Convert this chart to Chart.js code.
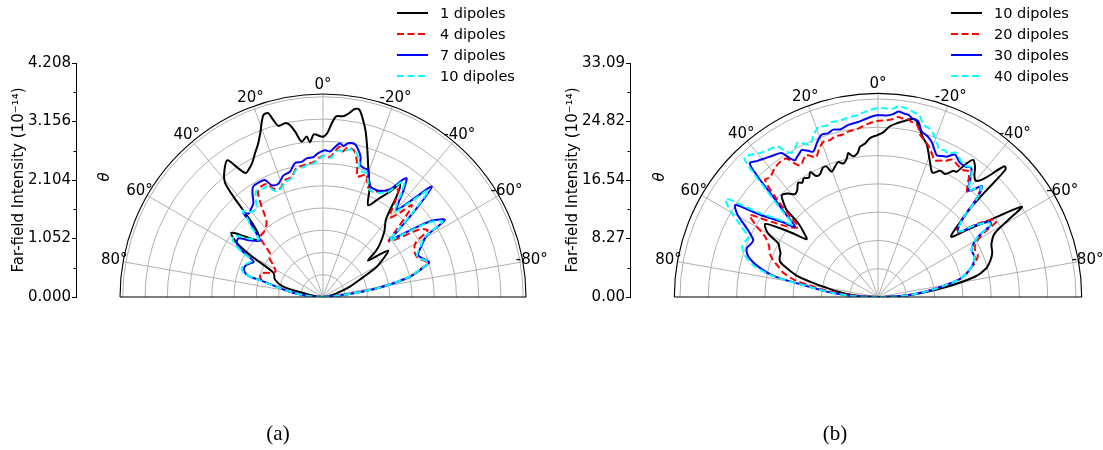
<!DOCTYPE html>
<html>
<head>
<meta charset="utf-8">
<title>Far-field intensity, polar</title>
<script src="https://cdn.jsdelivr.net/npm/chart.js@4.4.0/dist/chart.umd.min.js"></script>
<style>
  html, body { margin: 0; padding: 0; background: #fff; }
  body { width: 1103px; height: 450px; position: relative; overflow: hidden; }
  .panel { position: absolute; top: 0; }
  .caption { position: absolute; top: 421px; font-family: 'Liberation Serif', serif; font-size: 21px; transform: translateX(-50%); color: #000; }
</style>
</head>
<body>
<div class="panel" style="left:0"><canvas id="chartA" width="554" height="450"></canvas></div>
<div class="panel" style="left:554px"><canvas id="chartB" width="549" height="450"></canvas></div>
<div class="caption" style="left:278px">(a)</div>
<div class="caption" style="left:835px">(b)</div>
<script>
// Far-field intensity vs. emission angle, two half-polar panels

// ---- panel (a) ----
const labelsA = ['1 dipoles', '4 dipoles', '7 dipoles', '10 dipoles'];
const yTicksA = [0, 1.052, 2.104, 3.156, 4.208];

const a1Theta = [90,85,80,75.5,70,64,60.5,58,55,52,49,46.5,44,42.5,41.5,40.5,38,35,33.5,32,30,28,25.3,23,21,18.2,16.6,15.7,14.6,12.3,10.9,9.6,7.8,5.8,4.8,3.2,0.1,-1.5,-2.9,-4.3,-6.4,-7.9,-9.6,-11,-12.5,-14.4,-16.8,-19.6,-23.4,-26.2,-29.5,-32.5,-34.3,-36,-39,-43,-47,-49,-51,-53,-54.7,-57.5,-60.6,-64.2,-69,-75,-82,-90];
const a1Value = [0,0.14,0.29,0.74,0.92,0.99,1.44,1.82,2.01,1.76,1.56,1.58,1.80,2.16,2.50,2.72,2.88,3.00,2.79,2.63,2.66,2.72,2.86,2.99,3.15,3.44,3.45,3.31,3.18,3.20,3.15,3.02,2.82,2.90,2.79,2.93,2.88,2.95,3.13,3.26,3.27,3.33,3.43,3.43,3.29,3.08,2.76,2.43,2.10,1.84,2.03,2.25,2.46,2.27,1.80,1.62,1.40,1.26,1.04,1.26,1.44,1.29,1.11,0.77,0.52,0.25,0.09,0];

const a4Theta = [90,86,82,78,75,72,69,65,62,58,54,50.5,48,46.3,42,37.4,35.5,34.2,32.5,31.2,29,26.4,24.6,21.5,18,14.8,11.8,8.9,6.7,4,1.9,-0.8,-2.8,-4.5,-6.3,-7.7,-9.3,-11.8,-13.5,-15,-15.9,-18,-19.6,-21,-23.4,-26.6,-29,-31.9,-34.3,-35.2,-37,-38.8,-40.3,-42.5,-44,-45.5,-47.5,-49.6,-52,-55,-57.5,-59.5,-62.5,-66,-68.5,-71.9,-74,-77,-81,-84.4,-90];
const a4Value = [0,0.27,0.54,0.81,1.13,1.19,1.19,1.03,0.97,1.04,1.19,1.24,1.44,1.56,1.58,1.67,1.80,1.96,2.16,2.25,2.28,2.27,2.14,2.10,2.21,2.23,2.36,2.39,2.41,2.43,2.50,2.54,2.52,2.61,2.72,2.64,2.72,2.70,2.57,2.37,2.25,2.30,2.34,2.21,2.10,2.12,2.19,2.27,2.34,2.36,2.16,1.94,1.87,2.07,2.30,2.12,1.80,1.55,1.71,2.12,2.23,1.94,1.85,1.83,1.87,1.98,1.82,1.58,0.97,0.36,0];

const a7Theta = [90,86,82,78,75,73.9,70.5,67,63,60.5,58,55.3,52,48.2,47,45.5,44.1,43.4,41.7,39,36.6,34,32.3,29,26.4,24.6,21.5,18,14.8,11.8,8.9,6.7,4,1.9,-0.8,-2.8,-4.5,-6.3,-7.7,-9.3,-11.8,-13.5,-15,-15.9,-18,-19.6,-21,-23.4,-26.6,-29,-31.9,-34.3,-35.2,-37,-38.8,-40.3,-42.5,-44.6,-46.5,-48.5,-49.6,-52,-55,-57.7,-59.5,-62.5,-66,-68.5,-71.9,-74,-77,-81,-84.4,-90];
const a7Value = [0,0.27,0.54,0.81,1.17,1.42,1.51,1.49,1.40,1.65,1.83,1.85,1.65,1.52,1.59,1.76,1.89,2.09,2.01,2.05,2.10,2.27,2.35,2.36,2.35,2.21,2.19,2.30,2.33,2.46,2.46,2.51,2.52,2.59,2.64,2.62,2.70,2.78,2.74,2.80,2.81,2.72,2.61,2.46,2.43,2.43,2.30,2.16,2.15,2.18,2.28,2.56,2.61,2.41,2.16,2.05,2.37,2.79,2.34,1.80,1.58,1.89,2.39,2.59,2.16,2.00,1.87,1.91,2.01,1.85,1.60,0.97,0.36,0];

const a10Theta = [90,86,82,78,75,73.5,70.5,67,63,60.5,58,55.3,52,48.2,47,45.5,44.1,43,41.7,39,36.6,34,32.3,29,26.4,24.6,21.5,18,14.8,11.8,8.9,6.7,4,1.9,-0.8,-2.8,-4.5,-6.3,-7.7,-9.3,-11.8,-13.5,-15,-15.9,-18,-19.6,-21,-23.4,-26.6,-29,-31.9,-34.3,-35.2,-37,-38.8,-40.3,-42.5,-44.6,-46.5,-48.5,-49.6,-52,-55,-57.7,-59.5,-62.5,-66,-68.5,-71.9,-74,-77,-81,-84.4,-90];
const a10Value = [0,0.27,0.54,0.83,1.22,1.47,1.55,1.51,1.44,1.71,1.91,1.94,1.71,1.55,1.62,1.83,1.94,2.12,2.05,1.98,2.01,2.16,2.25,2.23,2.23,2.10,2.09,2.18,2.21,2.34,2.36,2.39,2.41,2.48,2.54,2.50,2.57,2.66,2.63,2.68,2.70,2.63,2.52,2.39,2.36,2.36,2.25,2.10,2.10,2.14,2.23,2.50,2.54,2.34,2.10,2.01,2.30,2.70,2.27,1.76,1.56,1.85,2.34,2.54,2.12,1.98,1.85,1.89,2.00,1.83,1.58,0.97,0.36,0];

// ---- panel (b) ----
const labelsB = ['10 dipoles', '20 dipoles', '30 dipoles', '40 dipoles'];
const yTicksB = [0, 8.27, 16.54, 24.82, 33.09];

const b10Theta = [90,87.5,85.7,82.5,79.6,77.5,75.7,73,70.2,68,65.9,63.5,61.7,59.9,57.1,55,53,51,49,47.2,46.4,45,43.4,41,39,37.2,35,33.5,32,30,28.5,27,25.3,23,21.5,20.3,18,16.4,14.5,12.5,11.7,10,8,6.8,4.7,2.9,0.2,-1.8,-4,-6.1,-8.7,-10.7,-12.1,-13.6,-15.6,-17.8,-21,-23.7,-26.2,-28.6,-30.9,-32.1,-33.5,-34.8,-36.8,-38.5,-40.2,-42,-44,-45,-45.5,-46,-47,-50.4,-53,-55.2,-57.9,-59.4,-61.4,-65,-69,-72,-75.2,-78.2,-81.8,-85.8,-88.5,-90];
const b10Value = [0,1.7,3.7,5.7,7.6,9.6,11.6,13.2,14.7,15.0,15.1,15.6,16.0,18.0,19.0,17.0,14.8,13.0,13.9,15.4,17.8,18.9,19.8,19.4,18.7,18.9,19.7,19.4,19.8,19.5,20.1,19.2,19.2,19.9,19.8,18.9,19.5,19.9,19.5,20.2,20.8,20.2,20.6,21.4,21.8,22.5,22.9,23.3,24.2,24.7,25.2,25.6,25.6,24.7,23.5,22.6,20.5,19.2,19.9,19.8,20.8,20.9,22.6,23.6,22.9,21.9,21.5,22.6,25.7,25.5,21.2,18.4,16.7,13.4,15.8,18.7,24.0,21.4,18.8,17.7,17.3,16.7,15.8,14.0,9.6,5.2,2.1,0];

const b20Theta = [90,87.5,85,82,78.5,75.5,73.1,70.5,68,65,61.9,59.5,57.4,56,54,51,48.6,47.5,46,44,42,39,36,33.5,32,30.5,28.5,27,25.5,24,21.5,19.2,17,15,12.5,9.8,6.5,3.6,0.4,-2.7,-4.5,-6.3,-8,-9.5,-11,-12.9,-14.8,-17,-19.1,-21,-22.5,-24.5,-26.1,-28.4,-31,-33.6,-35.9,-38.2,-40.3,-41.8,-43.1,-44.5,-45.5,-47.4,-50.9,-53.5,-56.1,-57.5,-58.8,-60.5,-63.4,-67.4,-70,-72.1,-75,-78,-82.6,-86,-88.5,-90];
const b20Value = [0,2.8,5.4,8.2,12.0,13.9,14.7,15.8,16.5,17.0,18.1,20.1,21.5,19.8,17.7,15.6,15.0,16.7,19.8,23.0,22.8,23.3,23.6,23.5,22.3,21.6,22.1,22.5,22.1,21.6,22.6,23.3,23.2,23.5,23.5,23.8,24.0,24.5,24.9,25.0,25.2,25.6,25.5,25.5,25.2,24.9,23.6,23.0,22.3,21.5,20.9,21.2,21.4,22.1,21.8,21.6,21.9,20.6,19.5,20.4,21.2,20.2,18.9,16.0,14.4,17.3,19.7,19.9,17.5,16.1,15.3,15.3,14.7,14.0,13.0,11.6,7.6,4.7,2.5,0];

const b30Theta = [90,87.8,85,82.1,78.8,76,72.7,69.6,67.5,65.4,62,59.5,57.2,56,54.6,52,49.7,48,46.2,45,43.8,41.5,39.2,36.5,33.8,32.5,31.2,30.4,28.5,27.4,25.5,24,21.5,19.2,17,15,12.5,9.8,6.5,3.6,0.4,-2.7,-4.5,-6.3,-8,-9.5,-11,-12.9,-14.8,-17,-19.1,-21,-22.5,-24.5,-26.1,-28.4,-31,-33.6,-35.9,-38.2,-40.3,-41.8,-43.1,-44.5,-45.5,-47.4,-50.9,-53.5,-56.1,-57.5,-58.5,-60.5,-63.4,-67.4,-70,-72.1,-75,-78,-82.6,-86,-88.5,-90];
const b30Value = [0,3.7,6.4,9.1,14.8,17.3,19.2,19.8,19.5,19.4,21.2,23.1,24.0,21.9,19.7,17.3,15.4,17.7,20.8,24.0,26.2,25.7,25.3,24.9,24.5,23.3,22.6,22.8,23.2,23.4,22.9,22.5,23.5,24.3,24.2,24.5,24.3,24.7,24.9,25.3,25.7,25.7,25.9,26.4,26.2,26.1,25.7,25.5,24.2,23.8,23.2,22.3,21.7,21.9,22.1,22.9,22.3,22.2,22.5,21.1,19.7,20.5,21.5,20.5,19.2,16.1,14.6,17.0,19.1,18.9,17.0,15.6,14.8,14.8,14.4,13.9,13.0,11.6,7.6,4.7,2.5,0];

const b40Theta = b30Theta.slice();
const b40Value = [0,3.7,6.4,9.1,15.0,18.0,19.7,20.5,20.4,20.2,22.3,24.3,25.6,23.3,20.5,17.8,15.8,18.4,21.9,25.2,27.3,26.9,26.3,25.9,25.6,24.5,23.8,23.8,24.3,24.6,24.0,23.6,24.7,25.5,25.3,25.6,25.5,25.7,25.9,26.3,26.7,26.7,26.7,27.2,27.0,26.9,26.6,26.3,25.2,24.9,24.2,23.3,22.6,22.8,22.6,23.2,22.6,22.3,22.6,21.2,19.8,20.5,21.4,20.5,19.2,16.1,14.7,17.0,18.9,18.8,17.0,15.6,14.8,14.8,14.4,13.9,13.0,11.6,7.6,4.7,2.5,0];

// angular grid (deg, positive to the left of 0)
const thetaGrid = [-80, -60, -40, -20, 0, 20, 40, 60, 80];

// layout in canvas pixels
const AXIS_LEFT = 76;
const AXIS_TOP = 63;
const AXIS_BOTTOM = 297;
const PLOT_RIGHT = 540;

const lineStyles = [
  { color: '#000000', dash: [] },
  { color: '#ff0000', dash: [7, 3.5] },
  { color: '#0000ff', dash: [] },
  { color: '#00ffff', dash: [7, 3.5] }
];

Chart.defaults.font.family = "'DejaVu Sans', sans-serif";
Chart.defaults.color = '#000';

function toXY(thetas, values) {
  const pts = [];
  const n = Math.min(thetas.length, values.length);
  for (let i = 0; i < n; i++) {
    const t = thetas[i] * Math.PI / 180;
    pts.push({ x: -values[i] * Math.sin(t), y: values[i] * Math.cos(t) });
  }
  return pts;
}

// polar frame: rings, spokes, outer spine, angle labels, legend
const polarFrame = {
  id: 'polarFrame',
  beforeDatasetsDraw(chart, args, o) {
    const { ctx, scales: { x, y } } = chart;
    const cx = x.getPixelForValue(0), cy = y.getPixelForValue(0);
    const R = cy - y.getPixelForValue(o.rMax);
    ctx.save();
    ctx.strokeStyle = '#b0b0b0';
    ctx.lineWidth = 1;
    for (let k = 1; k * o.rStep < o.rMax - 1e-9; k++) {
      const rr = cy - y.getPixelForValue(k * o.rStep);
      ctx.beginPath();
      ctx.arc(cx, cy, rr, Math.PI, 2 * Math.PI);
      ctx.stroke();
    }
    thetaGrid.forEach(a => {
      const t = a * Math.PI / 180;
      ctx.beginPath();
      ctx.moveTo(cx, cy);
      ctx.lineTo(cx - R * Math.sin(t), cy - R * Math.cos(t));
      ctx.stroke();
    });
    ctx.restore();
  },
  afterDatasetsDraw(chart, args, o) {
    const { ctx, scales: { x, y } } = chart;
    const cx = x.getPixelForValue(0), cy = y.getPixelForValue(0);
    const R = cy - y.getPixelForValue(o.rMax);
    ctx.save();
    // outer spine + baseline
    ctx.strokeStyle = '#000';
    ctx.lineWidth = 1.1;
    ctx.beginPath();
    ctx.moveTo(cx - R, cy);
    ctx.arc(cx, cy, R, Math.PI, 2 * Math.PI);
    ctx.lineTo(cx - R, cy);
    ctx.stroke();

    // angle labels
    ctx.fillStyle = '#000';
    ctx.font = "15px 'DejaVu Sans'";
    ctx.textAlign = 'center';
    ctx.textBaseline = 'middle';
    thetaGrid.forEach(a => {
      const t = a * Math.PI / 180;
      const d = R + 9;
      ctx.fillText(a + '\u00b0', cx - d * Math.sin(t), cy - d * Math.cos(t));
    });

    // theta axis name
    ctx.save();
    ctx.translate(cx - 218, cy - 120);
    ctx.rotate(-Math.PI / 2);
    ctx.font = "italic 15px 'DejaVu Sans'";
    ctx.fillText('\u03b8', 0, 0);
    ctx.restore();

    // minor ticks on the intensity axis
    ctx.lineWidth = 1;
    const ticks = o.yTicks;
    for (let i = 0; i < ticks.length - 1; i++) {
      const py = Math.round(y.getPixelForValue((ticks[i] + ticks[i + 1]) / 2)) + 0.5;
      ctx.beginPath();
      ctx.moveTo(AXIS_LEFT, py);
      ctx.lineTo(AXIS_LEFT - 2.5, py);
      ctx.stroke();
    }

    // legend
    const rows = [13, 34, 55, 76];
    chart.data.datasets.forEach((ds, i) => {
      ctx.strokeStyle = ds.borderColor;
      ctx.setLineDash(ds.borderDash);
      ctx.lineWidth = 2;
      ctx.beginPath();
      ctx.moveTo(o.legendX, rows[i]);
      ctx.lineTo(o.legendX + 31, rows[i]);
      ctx.stroke();
      ctx.setLineDash([]);
      ctx.textAlign = 'left';
      ctx.fillStyle = '#000';
      ctx.font = "14.5px 'DejaVu Sans'";
      ctx.fillText(ds.label, o.legendX + 43, rows[i] + 1);
    });
    ctx.restore();
  }
};

function buildPanel(canvasId, p) {
  const canvas = document.getElementById(canvasId);
  const pxPerUnit = (AXIS_BOTTOM - AXIS_TOP) / p.yMax;
  const xMin = -(p.centerPx - AXIS_LEFT) / pxPerUnit;
  const xMax = (PLOT_RIGHT - p.centerPx) / pxPerUnit;

  const datasets = p.series.map((s, i) => ({
    label: p.labels[i],
    data: toXY(s[0], s[1]),
    showLine: true,
    borderColor: lineStyles[i].color,
    borderDash: lineStyles[i].dash,
    borderWidth: 2,
    pointRadius: 0,
    tension: 0.3,
    fill: false,
    order: 3 - i
  }));

  return new Chart(canvas, {
    type: 'scatter',
    data: { datasets },
    options: {
      responsive: false,
      animation: false,
      devicePixelRatio: 1,
      layout: {
        padding: { left: 0, top: AXIS_TOP, right: canvas.width - PLOT_RIGHT, bottom: canvas.height - AXIS_BOTTOM }
      },
      scales: {
        x: { type: 'linear', display: false, min: xMin, max: xMax },
        y: {
          type: 'linear',
          min: 0,
          max: p.yMax,
          afterFit: s => { s.width = AXIS_LEFT; },
          afterBuildTicks: s => { s.ticks = p.yTicks.map(v => ({ value: v })); },
          ticks: {
            callback: v => Number(v).toFixed(p.decimals),
            font: { size: 15 },
            color: '#000',
            padding: 1
          },
          grid: { drawOnChartArea: false, tickLength: 4, color: '#000', tickWidth: 1 },
          border: { display: true, color: '#000', width: 1 },
          title: {
            display: true,
            text: 'Far-field Intensity (10\u207b\u00b9\u2074)',
            font: { size: 15 },
            color: '#000',
            padding: { top: 10, bottom: 0 }
          }
        }
      },
      plugins: {
        legend: { display: false },
        tooltip: { enabled: false },
        polarFrame: { rMax: p.rMax, rStep: p.rStep, yTicks: p.yTicks, legendX: 397 }
      }
    },
    plugins: [polarFrame]
  });
}

buildPanel('chartA', {
  labels: labelsA,
  yTicks: yTicksA,
  yMax: yTicksA[yTicksA.length - 1],
  decimals: 3,
  rMax: 3.65,
  rStep: 0.4,
  centerPx: 323,
  series: [[a1Theta, a1Value], [a4Theta, a4Value], [a7Theta, a7Value], [a10Theta, a10Value]]
});

buildPanel('chartB', {
  labels: labelsB,
  yTicks: yTicksB,
  yMax: yTicksB[yTicksB.length - 1],
  decimals: 2,
  rMax: 28.8,
  rStep: 4,
  centerPx: 324,
  series: [[b10Theta, b10Value], [b20Theta, b20Value], [b30Theta, b30Value], [b40Theta, b40Value]]
});
</script>
</body>
</html>
